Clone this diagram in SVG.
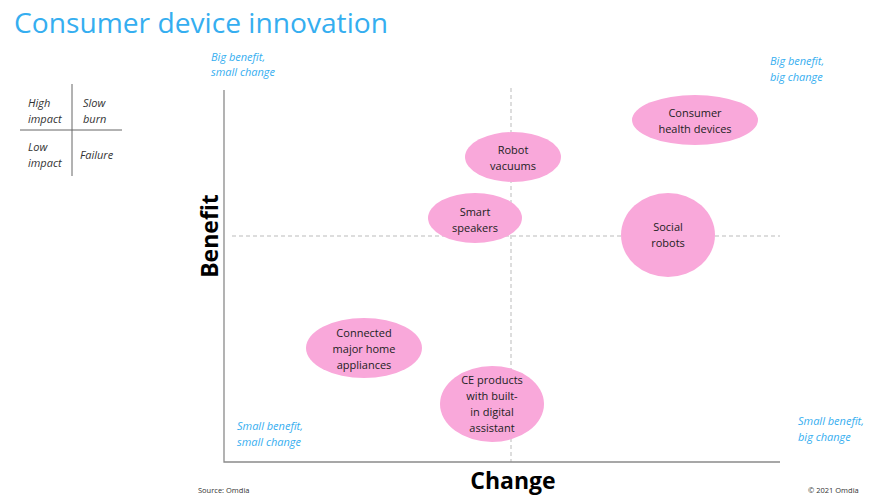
<svg xmlns="http://www.w3.org/2000/svg" width="870" height="500" viewBox="0 0 870 500">
<style>
.t{font-family:"Open Sans","Liberation Sans",sans-serif}
.title{font-size:28px;fill:#35aef0}
.q{font-size:11px;font-style:italic;fill:#35aef0}
.lg{font-size:11px;font-style:italic;fill:#333}
.n{font-size:11px;fill:#222;text-anchor:middle}
.ax{font-size:23px;font-weight:bold;fill:#000;text-anchor:middle}
.sm{font-size:7.5px;fill:#333}
.bub{fill:#f9a8da}
.axis{stroke:#8a8a8a;stroke-width:1.3;fill:none}
.dash{stroke:#aaa;stroke-width:0.8;stroke-dasharray:4 3;fill:none}
.lgl{stroke:#666;stroke-width:1;fill:none}
</style>
<rect width="870" height="500" fill="#fff"/>
<text class="t title" x="14" y="33" textLength="374" lengthAdjust="spacingAndGlyphs">Consumer device innovation</text>

<g id="legend">
<line class="lgl" x1="72" y1="84" x2="72" y2="176"/>
<line class="lgl" x1="20" y1="130" x2="122" y2="130"/>
<text class="t lg" x="28" y="107">High</text>
<text class="t lg" x="28" y="123">impact</text>
<text class="t lg" x="83" y="107">Slow</text>
<text class="t lg" x="83" y="123">burn</text>
<text class="t lg" x="28" y="151">Low</text>
<text class="t lg" x="28" y="167">impact</text>
<text class="t lg" x="80" y="159">Failure</text>
</g>

<g id="quadrant-labels">
<text class="t q" x="211" y="61">Big benefit,</text>
<text class="t q" x="211" y="76">small change</text>
<text class="t q" x="770" y="65">Big benefit,</text>
<text class="t q" x="770" y="81">big change</text>
<text class="t q" x="237" y="430">Small benefit,</text>
<text class="t q" x="237" y="446">small change</text>
<text class="t q" x="798" y="425">Small benefit,</text>
<text class="t q" x="798" y="441">big change</text>
</g>

<g id="axes">
<line class="dash" x1="511" y1="88" x2="511" y2="462"/>
<line class="dash" x1="232" y1="236" x2="780" y2="236"/>
<polyline class="axis" points="224,90 224,462 780,462"/>
<text class="t ax" x="0" y="0" transform="translate(218,236) rotate(-90)">Benefit</text>
<text class="t ax" x="513" y="489">Change</text>
</g>

<g id="consumer-health-devices">
<ellipse class="bub" cx="695" cy="120" rx="63" ry="25"/>
<text class="t n" x="695" y="117">Consumer</text>
<text class="t n" x="695" y="133">health devices</text>
</g>
<g id="robot-vacuums">
<ellipse class="bub" cx="513" cy="157" rx="48" ry="25"/>
<text class="t n" x="513" y="154">Robot</text>
<text class="t n" x="513" y="170">vacuums</text>
</g>
<g id="smart-speakers">
<ellipse class="bub" cx="475" cy="218" rx="47" ry="25"/>
<text class="t n" x="475" y="216">Smart</text>
<text class="t n" x="475" y="232">speakers</text>
</g>
<g id="social-robots">
<ellipse class="bub" cx="668" cy="235" rx="47" ry="42"/>
<text class="t n" x="668" y="231">Social</text>
<text class="t n" x="668" y="247">robots</text>
</g>
<g id="connected-appliances">
<ellipse class="bub" cx="364" cy="348" rx="58" ry="30"/>
<text class="t n" x="364" y="337">Connected</text>
<text class="t n" x="364" y="353">major home</text>
<text class="t n" x="364" y="369">appliances</text>
</g>
<g id="ce-products">
<ellipse class="bub" cx="492" cy="404" rx="52" ry="38"/>
<text class="t n" x="492" y="384">CE products</text>
<text class="t n" x="492" y="400">with built-</text>
<text class="t n" x="492" y="416">in digital</text>
<text class="t n" x="492" y="432">assistant</text>
</g>

<text class="t sm" x="198" y="493">Source: Omdia</text>
<text class="t sm" x="808" y="493">© 2021 Omdia</text>
</svg>
